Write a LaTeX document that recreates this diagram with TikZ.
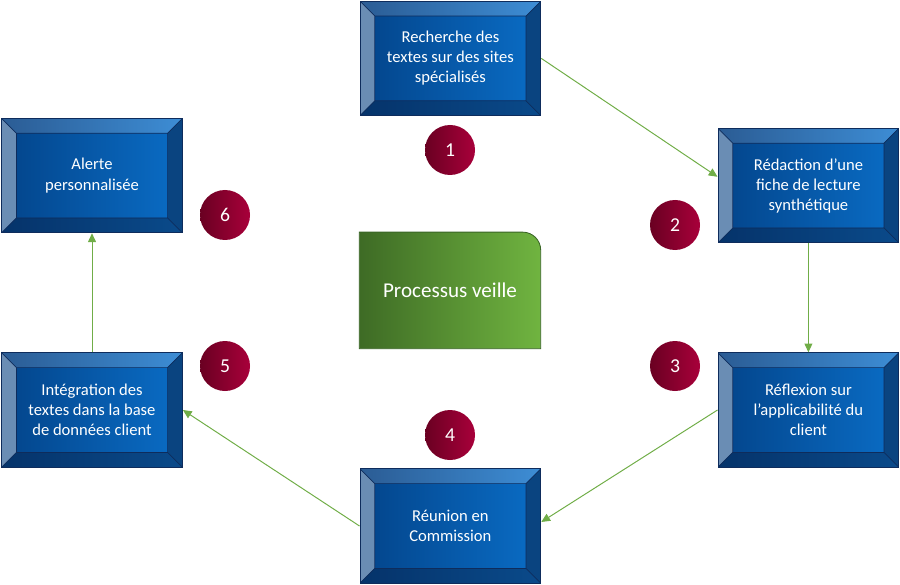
\documentclass[tikz,border=0pt]{standalone}
\usepackage{fontspec}
\usepackage{tikz}
\usetikzlibrary{arrows.meta, calc, backgrounds}
\newfontfamily\calibri{Carlito}
\newcommand\boxfont{\calibri\fontsize{11.8}{14.3}\selectfont}
\newcommand\hubfont{\calibri\fontsize{15}{17}\selectfont}
\newcommand\markfont{\calibri\fontsize{14}{16}\selectfont}
\newcommand\bevw{0.37cm}
\definecolor{boxedge}{HTML}{0E2C5C}
\definecolor{faceleft}{HTML}{03448A}
\definecolor{faceright}{HTML}{0A6DC6}
\definecolor{bevtopl}{HTML}{2B5C94}
\definecolor{bevtopr}{HTML}{3D8DD5}
\definecolor{bevside}{HTML}{6A8DB4}
\definecolor{bevright}{HTML}{0A4480}
\definecolor{bevbotl}{HTML}{05336A}
\definecolor{bevbotr}{HTML}{0A4A8A}
\definecolor{markl}{HTML}{6A0022}
\definecolor{markr}{HTML}{A8003A}
\definecolor{hubl}{HTML}{3E6B25}
\definecolor{hubr}{HTML}{70B440}
\definecolor{hubedge}{HTML}{3A6526}
\definecolor{flow}{HTML}{70AD47}
\tikzset{
  bevelbox/.style={draw=boxedge, line width=0.7pt, minimum width=4.52cm, minimum height=2.86cm,
             inner sep=0pt, align=center, text=white, font=\boxfont,
             left color=faceleft, right color=faceright,
             path picture={
               \coordinate (sw) at (path picture bounding box.south west);
               \coordinate (ne) at (path picture bounding box.north east);
               \coordinate (isw) at ($(sw)+(\bevw,\bevw)$);
               \coordinate (ine) at ($(ne)-(\bevw,\bevw)$);
               \shade[left color=bevtopl, right color=bevtopr] (sw|-ne) -- (ne) -- (ine) -- (isw|-ine) -- cycle;
               \fill[bevside] (sw) -- (sw|-ne) -- (isw|-ine) -- (isw) -- cycle;
               \fill[bevright] (ne) -- (ne|-sw) -- (ine|-isw) -- (ine) -- cycle;
               \shade[left color=bevbotl, right color=bevbotr] (sw) -- (ne|-sw) -- (ine|-isw) -- (isw) -- cycle;
               \draw[boxedge, line width=0.5pt] (isw) rectangle (ine)
                 (sw) -- (isw) (ne) -- (ine) (sw|-ne) -- (isw|-ine) (ne|-sw) -- (ine|-isw);
             }},
  stepmark/.style={circle, minimum size=1.25cm, inner sep=0pt, left color=markl, right color=markr,
             text=white, font=\markfont},
  hubtext/.style={minimum width=4.52cm, minimum height=2.9cm, inner sep=0pt, text=white, font=\hubfont},
  flowarrow/.style={-{Triangle[length=2.2mm,width=2mm]}, draw=flow, line width=0.7pt}
}
\begin{document}
\begin{tikzpicture}
  \useasboundingbox (0,0) rectangle (22.5,14.6);
  % les six etapes
  \node[bevelbox] (b1) at (11.26,13.14) {Recherche des\\textes sur des sites\\spécialisés};
  \node[bevelbox] (b2) at (20.21,9.96) {Rédaction d’une\\fiche de lecture\\synthétique};
  \node[bevelbox] (b3) at (20.21,4.35) {Réflexion sur\\l’applicabilité du\\client};
  \node[bevelbox] (b4) at (11.26,1.45) {Réunion en\\Commission};
  \node[bevelbox] (b5) at (2.3,4.35) {Intégration des\\textes dans la base\\de données client};
  \node[bevelbox] (b6) at (2.3,10.21) {Alerte\\personnalisée};
  % le centre
  \node[hubtext] (hub) at (11.25,7.34) {Processus veille};
  \begin{scope}[on background layer]
    \shade[left color=hubl, right color=hubr, draw=hubedge, line width=0.6pt]
      (hub.south west) -- (hub.north west) -- ([xshift=-0.45cm]hub.north east)
      arc[start angle=90, end angle=0, radius=0.45cm] -- (hub.south east) -- cycle;
  \end{scope}
  % numeros
  \node[stepmark] (n1) at (11.25,10.85) {1};
  \node[stepmark] (n2) at (16.875,8.975) {2};
  \node[stepmark] (n3) at (16.875,5.45) {3};
  \node[stepmark] (n4) at (11.25,3.725) {4};
  \node[stepmark] (n5) at (5.625,5.45) {5};
  \node[stepmark] (n6) at (5.625,9.225) {6};
  % fleches
  \draw[flowarrow] (b1.east) -- ([yshift=0.22cm]b2.west);
  \draw[flowarrow] (b2.south) -- (b3.north);
  \draw[flowarrow] (b3.west) -- ([yshift=0.1cm]b4.east);
  \draw[flowarrow] (b4.west) -- (b5.east);
  \draw[flowarrow] (b5.north) -- (b6.south);
\end{tikzpicture}
\end{document}
